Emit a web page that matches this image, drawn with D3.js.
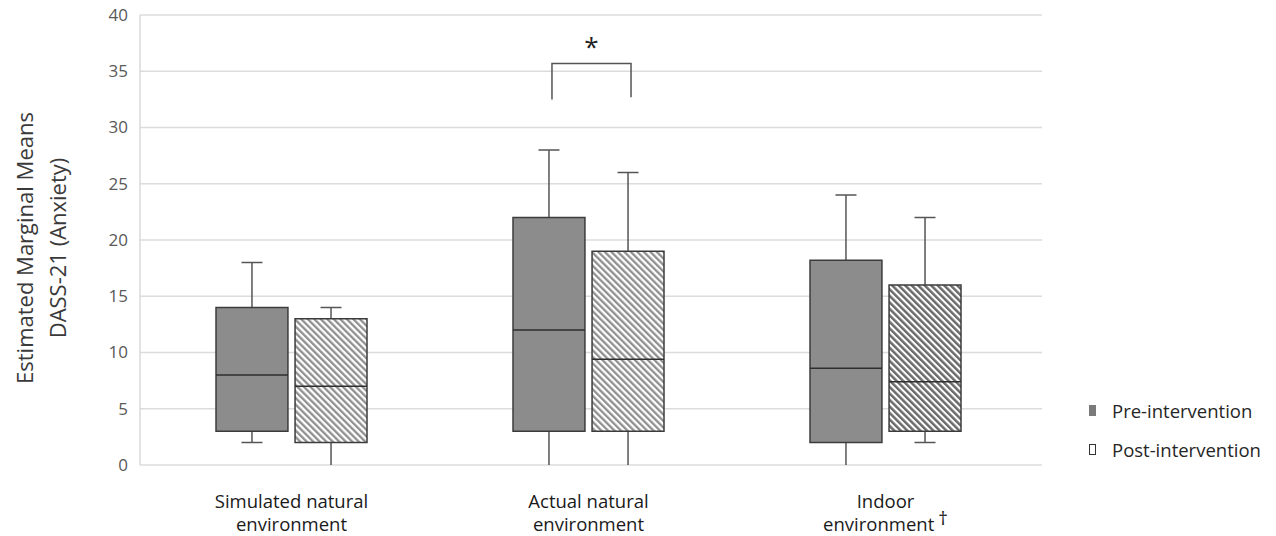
<!DOCTYPE html>
<html>
<head>
<meta charset="utf-8">
<script src="https://cdn.jsdelivr.net/npm/d3@7"></script>
<style>
  body { margin: 0; background: #fff; }
  text { font-family: "Open Sans", "Noto Sans", sans-serif; }
</style>
</head>
<body>
<div id="chart"></div>
<script>
// categories and box statistics (pre / post intervention)
var categories = ["Simulated natural environment", "Actual natural environment", "Indoor environment"];
var catLines = [["Simulated natural", "environment"], ["Actual natural", "environment"], ["Indoor", "environment"]];

var preMin = [2, 0, 0];
var preQ1 = [3, 3, 2];
var preMedian = [8, 12, 8.6];
var preQ3 = [14, 22, 18.2];
var preMax = [18, 28, 24];

var postMin = [0, 0, 2];
var postQ1 = [2, 3, 3];
var postMedian = [7, 9.4, 7.4];
var postQ3 = [13, 19, 16];
var postMax = [14, 26, 22];

var yTicks = [0, 5, 10, 15, 20, 25, 30, 35, 40];
var seriesNames = ["Pre-intervention", "Post-intervention"];

// significance bracket for the actual natural environment
var sigCategory = "Actual natural environment";
var sigTop = 35.7, sigLeftEnd = 32.5, sigRightEnd = 32.7, sigLabelAt = 37.6;

var W = 1276, H = 536;

var svg = d3.select("#chart").append("svg")
    .attr("width", W)
    .attr("height", H);

// hatch patterns for post-intervention boxes
var defs = svg.append("defs");
function hatch(id, color, lw) {
    var p = defs.append("pattern")
        .attr("id", id)
        .attr("patternUnits", "userSpaceOnUse")
        .attr("width", 4.6)
        .attr("height", 4.6)
        .attr("patternTransform", "rotate(-45)");
    p.append("rect").attr("width", 4.6).attr("height", 4.6).attr("fill", "#fff");
    p.append("line")
        .attr("x1", 1.2).attr("y1", 0).attr("x2", 1.2).attr("y2", 4.6)
        .attr("stroke", color).attr("stroke-width", lw);
}
hatch("hatchLight", "#8a8a8a", 2.2);
hatch("hatchDark", "#6a6a6a", 2.6);
var postFill = ["url(#hatchLight)", "url(#hatchLight)", "url(#hatchDark)"];

var y = d3.scaleLinear().domain([0, 40]).range([465, 15]);
var x = d3.scaleBand().domain(categories).range([143, 1034]);
var sub = d3.scaleBand().domain(["pre", "post"]).range([-75.5, 75.5]).paddingInner(0.09);

var plotLeft = 140, plotRight = 1042;

// grid lines
svg.append("g")
    .selectAll("line")
    .data(yTicks)
    .join("line")
    .attr("x1", plotLeft).attr("x2", plotRight)
    .attr("y1", d => y(d)).attr("y2", d => y(d))
    .attr("stroke", "#dcdcdc")
    .attr("stroke-width", 1.3);

// left axis line
svg.append("line")
    .attr("x1", plotLeft).attr("x2", plotLeft)
    .attr("y1", y(40)).attr("y2", y(0))
    .attr("stroke", "#d4d4d4")
    .attr("stroke-width", 1.3);

// y tick labels
var yAxis = svg.append("g")
    .attr("transform", "translate(" + plotLeft + ",0)")
    .call(d3.axisLeft(y).tickValues(yTicks).tickSize(0).tickPadding(12));
yAxis.select(".domain").remove();
yAxis.selectAll("text")
    .attr("font-family", "'Open Sans', 'Noto Sans', sans-serif")
    .attr("font-size", 17)
    .attr("fill", "#595959");

// y axis title
var yTitle = svg.append("text")
    .attr("transform", "translate(33,248) rotate(-90)")
    .attr("text-anchor", "middle")
    .attr("font-size", 22)
    .attr("fill", "#3a3a3a");
yTitle.append("tspan").attr("x", 0).attr("dy", 0).text("Estimated Marginal Means");
yTitle.append("tspan").attr("x", 0).attr("dy", 33).text("DASS-21 (Anxiety)");

// build box data
var boxes = [];
categories.forEach(function (c, i) {
    boxes.push({cat: c, key: "pre", min: preMin[i], q1: preQ1[i], med: preMedian[i], q3: preQ3[i], max: preMax[i], fill: "#8c8c8c"});
    boxes.push({cat: c, key: "post", min: postMin[i], q1: postQ1[i], med: postMedian[i], q3: postQ3[i], max: postMax[i], fill: postFill[i]});
});

var bw = sub.bandwidth();
var capW = 21;
var g = svg.append("g");
var bx = d => x(d.cat) + x.bandwidth() / 2 + sub(d.key);
var cx = d => bx(d) + bw / 2;

// whiskers
g.selectAll(".whiskTop").data(boxes).join("line")
    .attr("x1", cx).attr("x2", cx)
    .attr("y1", d => y(d.q3)).attr("y2", d => y(d.max))
    .attr("stroke", "#555").attr("stroke-width", 1.5);
g.selectAll(".whiskBot").data(boxes).join("line")
    .attr("x1", cx).attr("x2", cx)
    .attr("y1", d => y(d.q1)).attr("y2", d => y(d.min))
    .attr("stroke", "#555").attr("stroke-width", 1.5);
g.selectAll(".capTop").data(boxes).join("line")
    .attr("x1", d => cx(d) - capW / 2).attr("x2", d => cx(d) + capW / 2)
    .attr("y1", d => y(d.max)).attr("y2", d => y(d.max))
    .attr("stroke", "#555").attr("stroke-width", 1.5);
g.selectAll(".capBot").data(boxes.filter(d => d.min > 0)).join("line")
    .attr("x1", d => cx(d) - capW / 2).attr("x2", d => cx(d) + capW / 2)
    .attr("y1", d => y(d.min)).attr("y2", d => y(d.min))
    .attr("stroke", "#555").attr("stroke-width", 1.5);

// boxes
g.selectAll(".box").data(boxes).join("rect")
    .attr("x", bx)
    .attr("y", d => y(d.q3))
    .attr("width", bw)
    .attr("height", d => y(d.q1) - y(d.q3))
    .attr("fill", d => d.fill)
    .attr("stroke", "#3c3c3c")
    .attr("stroke-width", 1.5);

// medians
g.selectAll(".median").data(boxes).join("line")
    .attr("x1", bx).attr("x2", d => bx(d) + bw)
    .attr("y1", d => y(d.med)).attr("y2", d => y(d.med))
    .attr("stroke", "#2e2e2e").attr("stroke-width", 1.5);

// significance bracket
var sLeft = x(sigCategory) + x.bandwidth() / 2 + sub("pre") + bw / 2 + 3;
var sRight = x(sigCategory) + x.bandwidth() / 2 + sub("post") + bw / 2 + 3;
svg.append("path")
    .attr("d", "M" + sLeft + "," + y(sigLeftEnd) + "V" + y(sigTop) + "H" + sRight + "V" + y(sigRightEnd))
    .attr("fill", "none")
    .attr("stroke", "#555")
    .attr("stroke-width", 1.5);
svg.append("text")
    .attr("x", (sLeft + sRight) / 2)
    .attr("y", y(sigLabelAt) + 14)
    .attr("text-anchor", "middle")
    .attr("font-size", 26)
    .attr("fill", "#222")
    .text("*");

// category labels
var catG = svg.append("g");
categories.forEach(function (c, i) {
    var t = catG.append("text")
        .attr("x", x(c) + x.bandwidth() / 2)
        .attr("y", 508)
        .attr("text-anchor", "middle")
        .attr("font-size", 18.5)
        .attr("fill", "#1a1a1a");
    t.append("tspan").attr("x", x(c) + x.bandwidth() / 2).text(catLines[i][0]);
    t.append("tspan").attr("x", x(c) + x.bandwidth() / 2).attr("dy", 23).text(catLines[i][1]);
    if (i === 2) {
        t.append("tspan").attr("dx", 4).attr("dy", -6).attr("font-size", 19).text("\u2020");
    }
});

// legend
var legend = svg.append("g");
seriesNames.forEach(function (s, i) {
    var ly = 411 + i * 39;
    legend.append("rect")
        .attr("x", 1089.5).attr("y", ly - 5.5)
        .attr("width", 6).attr("height", 10)
        .attr("fill", i === 0 ? "#7a7a7a" : "#fff")
        .attr("stroke", i === 0 ? "#7a7a7a" : "#333")
        .attr("stroke-width", 1);
    legend.append("text")
        .attr("x", 1112).attr("y", ly + 7)
        .attr("font-size", 18.5)
        .attr("fill", "#262626")
        .text(s);
});
</script>
</body>
</html>
